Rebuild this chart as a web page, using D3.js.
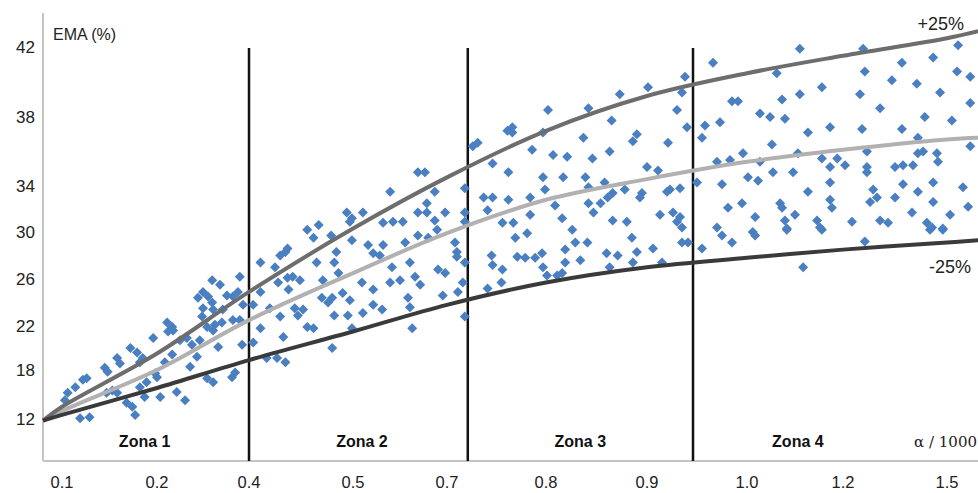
<!DOCTYPE html>
<html>
<head>
<meta charset="utf-8">
<script src="https://cdn.jsdelivr.net/npm/d3@7"></script>
<style>
  html, body { margin: 0; padding: 0; background: #fff; }
  svg { display: block; font-family: "Liberation Sans", Arial, sans-serif; }
</style>
</head>
<body>
<svg id="chart" width="978" height="493"></svg>
<script>
// tick labels
const xTicks = [0.1, 0.2, 0.4, 0.5, 0.7, 0.8, 0.9, 1.0, 1.2, 1.5]
const yTicks = [12, 18, 22, 26, 30, 34, 38, 42]

// zone dividers and labels
const zoneBounds = [0.4, 0.721, 0.946]
const zoneNames = ["Zona 1", "Zona 2", "Zona 3", "Zona 4"]
const zoneLabelX = [0.187, 0.519, 0.834, 1.106]

// the three reference curves
const curveX = [0.08, 0.1, 0.2, 0.4, 0.5, 0.7, 0.8, 0.9, 1.0, 1.2, 1.5, 1.59]
const upper  = [11.8, 13.5, 19.5, 24.9, 30.3, 34.5, 37.2, 39.2, 40.5, 41.5, 42.5, 42.9]
const middle = [11.8, 13.0, 18.0, 22.5, 26.5, 29.9, 32.8, 34.4, 35.4, 36.1, 36.7, 36.8]
const lower  = [11.8, 12.5, 15.8, 18.9, 21.5, 23.8, 25.7, 27.0, 27.8, 28.5, 29.1, 29.3]

// measured points [alpha/1000, EMA %]
const points = [
  [0.119,12.1],[0.129,12.2],[0.106,15.2],[0.103,14.3],[0.122,16.8],[0.126,17.0],[0.114,15.9],[0.145,18.2],
  [0.148,17.8],[0.158,19.1],[0.161,18.6],[0.153,15.5],[0.147,15.2],[0.158,15.2],[0.168,14.0],[0.174,13.5],
  [0.177,12.5],[0.172,20.0],[0.179,19.6],[0.185,19.1],[0.182,18.7],[0.189,16.5],[0.182,15.9],[0.187,14.7],
  [0.196,20.9],[0.2,17.1],[0.198,17.6],[0.207,14.7],[0.222,22.3],[0.233,21.9],[0.224,21.5],[0.235,21.6],
  [0.217,18.7],[0.233,19.4],[0.243,15.3],[0.261,14.3],[0.25,20.7],[0.265,20.9],[0.276,20.3],[0.272,18.3],
  [0.287,19.2],[0.293,20.7],[0.309,21.9],[0.298,22.8],[0.289,24.4],[0.3,24.9],[0.311,24.5],[0.32,24.0],
  [0.322,23.4],[0.3,23.5],[0.32,25.9],[0.337,25.5],[0.326,22.1],[0.341,22.3],[0.322,21.6],[0.333,20.1],
  [0.309,17.0],[0.322,16.5],[0.363,17.1],[0.37,17.7],[0.385,20.3],[0.352,24.6],[0.365,24.5],[0.38,26.2],
  [0.376,24.9],[0.387,23.8],[0.38,22.5],[0.365,22.5],[0.343,23.4],
  [0.411,27.4],[0.425,27.0],[0.43,28.0],[0.437,28.6],[0.435,28.3],[0.428,25.7],[0.438,25.1],[0.437,26.1],
  [0.442,26.2],[0.449,25.9],[0.411,24.9],[0.404,23.8],[0.42,23.5],[0.43,22.8],[0.411,21.8],[0.404,20.5],
  [0.433,21.0],[0.444,23.5],[0.447,22.9],[0.452,23.4],[0.456,21.9],[0.462,21.8],[0.417,19.1],[0.427,19.1],
  [0.435,18.7],[0.456,30.2],[0.462,29.5],[0.465,27.4],[0.471,25.9],[0.47,24.4],[0.476,24.0],[0.48,24.4],
  [0.482,22.9],[0.48,20.0],[0.482,27.4],[0.484,28.3],[0.486,26.5],[0.49,24.8],[0.497,24.2],[0.499,29.3],
  [0.495,22.9],[0.519,25.7],[0.521,23.1],[0.499,21.8],[0.532,28.9],[0.543,28.2],[0.557,28.0],[0.564,28.9],
  [0.543,25.1],[0.543,23.8],[0.562,23.4],[0.579,25.7],[0.583,27.0],[0.6,25.9],[0.611,29.1],[0.621,27.4],
  [0.617,24.4],[0.621,23.6],[0.626,21.8],[0.632,26.2],[0.643,25.5],[0.638,29.7],[0.66,29.5],[0.679,30.2],
  [0.681,26.8],[0.696,26.5],[0.691,24.6],[0.708,29.1],[0.71,28.3],[0.71,27.9],[0.711,24.9],[0.718,27.4],
  [0.716,25.7],[0.718,22.8],
  [0.467,30.6],[0.479,29.7],[0.494,31.7],[0.497,30.9],[0.499,31.2],[0.521,31.7],[0.564,30.8],[0.585,30.9],
  [0.606,30.9],[0.579,33.5],[0.638,34.8],[0.653,34.8],[0.657,32.5],[0.674,33.5],[0.638,31.7],[0.657,31.7],
  [0.674,31.0],[0.696,31.7],[0.718,33.8],[0.718,31.7],[0.718,30.9],
  [0.726,36.3],[0.731,36.5],[0.746,35.3],[0.737,33.0],[0.746,33.0],[0.741,31.9],[0.756,30.8],[0.761,37.2],
  [0.762,34.8],[0.762,32.8],[0.745,28.0],[0.746,27.2],[0.756,26.8],[0.741,25.2],[0.755,25.7],
  [0.769,29.5],[0.781,29.9],[0.771,27.9],[0.779,27.8],[0.789,27.8],[0.796,28.2],[0.797,27.0],[0.801,26.3],
  [0.811,26.3],[0.816,26.5],[0.819,27.4],[0.819,28.5],[0.829,29.1],[0.826,30.2],[0.841,29.1],[0.834,27.6],
  [0.86,28.2],[0.871,28.0],[0.863,27.0],[0.885,29.5],[0.89,28.3],[0.886,27.4],[0.906,28.6],[0.915,27.4],
  [0.935,29.1],[0.941,29.1],[0.955,28.6],[0.975,29.7],[0.985,29.1],[1.017,29.7],[1.083,30.2],[1.117,27.0],
  [1.156,30.2],[1.263,29.2],[1.451,30.2],[1.488,30.2],
  [0.766,37.4],[0.766,37.1],[0.786,36.1],[0.802,38.4],[0.797,37.1],[0.807,35.8],[0.821,35.7],[0.767,30.8],
  [0.784,33.0],[0.784,31.5],[0.797,34.5],[0.799,33.7],[0.809,32.3],[0.817,34.5],[0.816,31.2],[0.837,36.8],
  [0.842,38.5],[0.839,34.5],[0.846,35.6],[0.842,33.9],[0.842,32.5],[0.847,31.7],[0.854,32.5],[0.858,34.2],
  [0.865,37.8],[0.863,36.0],[0.861,33.0],[0.866,33.4],[0.866,31.0],[0.873,39.3],[0.878,33.7],[0.88,30.9],
  [0.89,37.0],[0.886,36.6],[0.9,35.1],[0.901,39.7],[0.895,33.4],[0.893,33.0],[0.911,34.9],[0.913,31.5],
  [0.921,36.5],[0.92,33.5],[0.923,33.7],[0.933,33.8],[0.926,31.7],[0.933,31.3],[0.93,30.9],[0.935,30.4],
  [0.93,38.4],[0.938,40.3],[0.935,39.4],[0.94,37.4],[0.95,34.2],[0.958,37.5],[0.955,36.8],[0.966,41.1],
  [0.973,37.7],[0.97,35.4],[0.975,34.1],[0.97,30.4],[0.981,32.1],[0.983,35.5],[0.985,38.9],[0.991,38.9],
  [0.995,32.5],[0.996,35.9],[1.002,34.5],[1.017,31.3],[1.012,30.0],[1.023,34.3],[1.027,38.2],[1.048,38.0],
  [1.052,36.4],[1.027,35.4],[1.054,34.8],[1.062,40.5],[1.069,32.5],[1.073,32.1],[1.073,39.0],[1.079,37.9],
  [1.079,31.0],[1.083,30.3],[1.096,34.8],[1.1,31.5],[1.106,35.9],[1.11,41.9],[1.11,39.3],[1.127,37.1],
  [1.127,33.5],[1.146,31.0],[1.152,30.4],[1.156,39.7],[1.156,35.6],[1.173,37.4],[1.173,35.1],[1.173,34.2],
  [1.173,32.8],[1.177,32.1],[1.188,35.6],[1.206,35.2],[1.226,30.9],[1.249,39.3],[1.255,37.3],[1.258,41.9],
  [1.263,40.6],[1.269,36.0],[1.269,35.1],[1.269,34.8],[1.278,32.6],[1.287,33.7],[1.298,33.0],[1.307,38.5],
  [1.307,31.0],[1.33,30.8],[1.341,40.1],[1.35,35.1],[1.35,33.0],[1.37,41.1],[1.37,37.3],[1.373,35.2],
  [1.373,34.1],[1.402,35.2],[1.399,31.7],[1.413,39.9],[1.416,36.8],[1.416,35.9],[1.416,33.5],[1.431,36.0],
  [1.436,38.0],[1.442,30.8],[1.457,30.4],[1.46,41.4],[1.46,34.2],[1.46,32.6],[1.471,35.9],[1.474,35.4],
  [1.48,39.4],[1.488,30.3],[1.509,31.5],[1.514,37.8],[1.529,40.6],[1.532,42.1],[1.546,33.9],[1.561,32.2],
  [1.567,40.3],[1.567,38.8],[1.567,36.3]
]

const svg = d3.select('#chart')
const plotLeft = 43, plotRight = 978, plotTop = 13, plotBottom = 461

// axes are not evenly spaced, so use piecewise scales on the tick values
const x = d3.scaleLinear()
  .domain(xTicks)
  .range([62, 157, 249, 353, 447, 546, 647, 747, 843, 947])
const y = d3.scaleLinear()
  .domain(yTicks)
  .range([419, 370, 326, 279, 232, 186, 117, 47])

// axis lines
svg.append('line')
  .attr('x1', plotLeft).attr('x2', plotLeft).attr('y1', plotTop).attr('y2', plotBottom)
  .attr('stroke', '#c4c4c4').attr('stroke-width', 2)
svg.append('line')
  .attr('x1', plotLeft).attr('x2', plotRight).attr('y1', plotBottom).attr('y2', plotBottom)
  .attr('stroke', '#c4c4c4').attr('stroke-width', 2)

// tick labels
svg.append('g').selectAll('text')
  .data(yTicks)
  .join('text')
  .attr('x', 35)
  .attr('y', d => y(d))
  .attr('dy', '0.36em')
  .attr('text-anchor', 'end')
  .attr('font-size', 17)
  .attr('fill', '#222')
  .text(d => d)

svg.append('g').selectAll('text')
  .data(xTicks)
  .join('text')
  .attr('x', d => x(d))
  .attr('y', 488)
  .attr('text-anchor', 'middle')
  .attr('font-size', 16.5)
  .attr('fill', '#222')
  .text(d => d3.format('.1f')(d))

// zone dividers
svg.append('g').selectAll('line')
  .data(zoneBounds)
  .join('line')
  .attr('x1', d => x(d)).attr('x2', d => x(d))
  .attr('y1', 48).attr('y2', plotBottom)
  .attr('stroke', '#111').attr('stroke-width', 2.5)

svg.append('g').selectAll('text')
  .data(zoneNames)
  .join('text')
  .attr('x', (d, i) => x(zoneLabelX[i]))
  .attr('y', 447)
  .attr('text-anchor', 'middle')
  .attr('font-size', 16)
  .attr('font-weight', 'bold')
  .attr('fill', '#111')
  .text(d => d)

// scatter
svg.append('g').selectAll('path')
  .data(points)
  .join('path')
  .attr('d', d3.symbol(d3.symbolSquare, 50))
  .attr('transform', d => `translate(${x(d[0])},${y(d[1])}) rotate(45)`)
  .attr('fill', '#4a7fc1')

// curves
const line = d3.line()
  .x((d, i) => x(curveX[i]))
  .y(d => y(d))
  .curve(d3.curveCatmullRom.alpha(0.5))

const series = [
  {values: middle, color: '#b1b1b1'},
  {values: upper, color: '#6d6d6d'},
  {values: lower, color: '#3a3a3a'}
]
svg.append('g').selectAll('path')
  .data(series)
  .join('path')
  .attr('d', d => line(d.values))
  .attr('fill', 'none')
  .attr('stroke', d => d.color)
  .attr('stroke-width', 4)

// labels
svg.append('text')
  .attr('x', 53).attr('y', 40)
  .attr('font-size', 16)
  .attr('fill', '#222')
  .text('EMA (%)')

svg.append('text')
  .attr('x', 964).attr('y', 30)
  .attr('text-anchor', 'end')
  .attr('font-size', 18)
  .attr('fill', '#222')
  .text('+25%')

svg.append('text')
  .attr('x', 971).attr('y', 273)
  .attr('text-anchor', 'end')
  .attr('font-size', 18)
  .attr('fill', '#222')
  .text('-25%')

svg.append('text')
  .attr('x', 977).attr('y', 447)
  .attr('text-anchor', 'end')
  .attr('font-family', '"DejaVu Serif", "Liberation Serif", serif')
  .attr('font-size', 15)
  .attr('fill', '#222')
  .text('α / 1000')
</script>
</body>
</html>
